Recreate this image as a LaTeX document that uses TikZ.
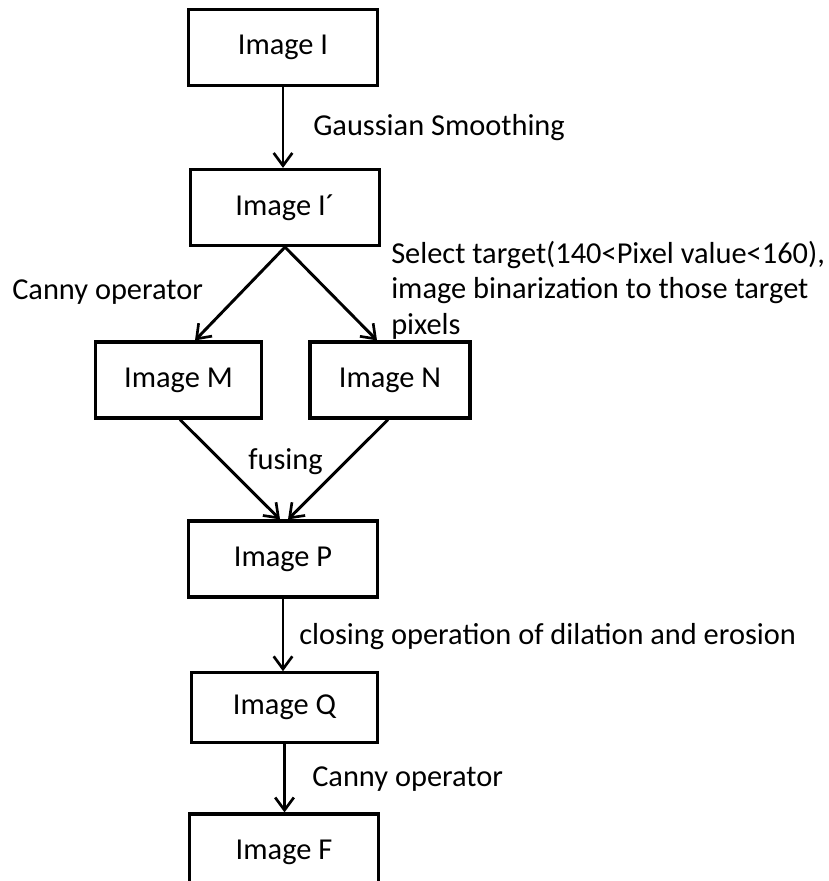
\documentclass[tikz,border=0pt]{standalone}
\usepackage{fontspec}
\setmainfont{Carlito}
\usepackage{tikz}
\usetikzlibrary{calc, positioning, arrows.meta}
\tikzset{>={Straight Barb[length=9.5pt,width=14pt,line width=2pt]}}
\tikzset{imgbox/.style={draw, line width=2.4pt, minimum width=142pt, minimum height=57pt, inner sep=0pt},
	lbl/.style={anchor=west, inner sep=0pt, align=left},
	arr/.style={->, line width=2.2pt}}

\begin{document}
\begin{tikzpicture}[x=0.75pt, y=-0.75pt, font=\fontsize{22.8}{26.5}\selectfont]
	\useasboundingbox (0,0) rectangle (828,881);
	\clip (0,0) rectangle (828,881);
	\node [imgbox] (I) at (283,47.5) {Image I};
	\node [imgbox] (Ip) at (285,207.5) {Image I´};
	\node [imgbox, minimum width=125pt] (M) at (178.5,380) {Image M};
	\node [imgbox, minimum width=120pt] (N) at (390,380) {Image N};
	\node [imgbox] (P) at (283,559) {Image P};
	\node [imgbox, minimum width=140pt, minimum height=52pt] (Q) at (284.5,707.5) {Image Q};
	\node [imgbox] (F) at (284,852) {Image F};
	\draw [arr] (I) -- (I |- Ip.north);
	\draw [arr] (Ip.south) -- ($(M.north)+(16.5,0)$);
	\draw [arr] (Ip.south) -- ($(N.north)+(-13,0)$);
	\draw [arr] ($(M.south)+(1.5,0)$) -- ($(P.north)+(-3,0)$);
	\draw [arr] ($(N.south)+(-2,0)$) -- ($(P.north)+(5,0)$);
	\draw [arr] (P) -- (P |- Q.north);
	\draw [arr] (Q) -- (Q |- F.north);
	\node [lbl] (smooth) at (313,128) {Gaussian Smoothing};
	\node [lbl] (select) at (391,290) {Select target(140<Pixel value<160),\\image binarization to those target\\pixels};
	\node [lbl] (canny1) at (12,292) {Canny operator};
	\node [lbl] (fuse) at (248,462) {fusing};
	\node [lbl] (close) at (299,637) {closing operation of dilation and erosion};
	\node [lbl] (canny2) at (312,779) {Canny operator};
\end{tikzpicture}
\end{document}
